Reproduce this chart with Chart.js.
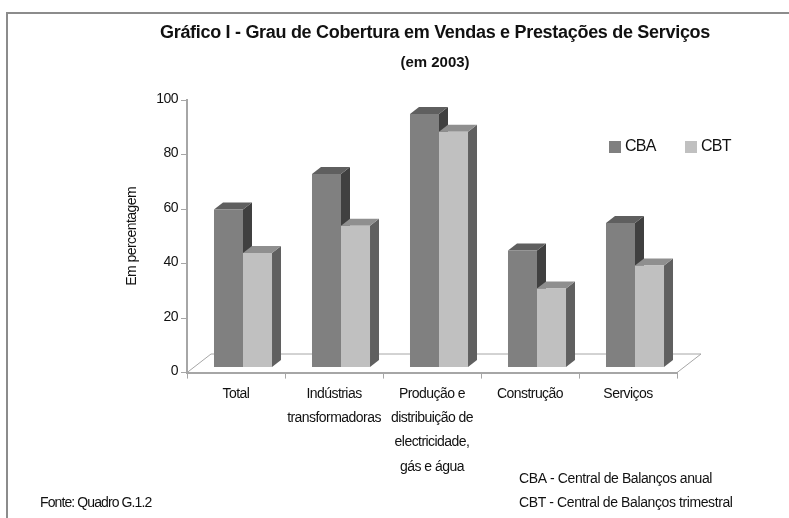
<!DOCTYPE html>
<html>
<head>
<meta charset="utf-8">
<title>Grau de Cobertura</title>
<script src="https://cdn.jsdelivr.net/npm/chart.js@4"></script>
<style>
  html, body { margin: 0; padding: 0; background: #fff; overflow: hidden; }
  #frame { position: absolute; left: 6px; top: 12px; width: 783px; height: 506px; border-left: 2px solid #8c8c8c; border-top: 2px solid #8c8c8c; box-sizing: border-box; }
  #myChart { position: absolute; left: 0; top: 0; }
</style>
</head>
<body>
<div id="frame"></div>
<canvas id="myChart" width="789" height="518"></canvas>
<script>
const categories = ['Total', ['Indústrias', 'transformadoras'], ['Produção e', 'distribuição de', 'electricidade,', 'gás e água'], 'Construção', 'Serviços'];
const cbaValues = [58, 71, 93, 43, 53];
const cbtValues = [42, 52, 86.5, 29, 37.5];
const yTicks = [0, 20, 40, 60, 80, 100];
const titleText = 'Gráfico I - Grau de Cobertura em Vendas e Prestações de Serviços';
const subtitleText = '(em 2003)';
const yAxisText = 'Em percentagem';
const sourceText = 'Fonte: Quadro G.1.2';
const noteLines = ['CBA - Central de Balanços anual', 'CBT - Central de Balanços trimestral'];

const fontName = '"Liberation Sans", Arial, sans-serif';
const axisGrey = '#a6a6a6';
const textColor = '#111';

function polygon(ctx, points, color) {
  ctx.fillStyle = color;
  ctx.beginPath();
  ctx.moveTo(points[0][0], points[0][1]);
  points.slice(1).forEach(p => ctx.lineTo(p[0], p[1]));
  ctx.closePath();
  ctx.fill();
}

// the original text is a narrow font, no such font here so tighten the spacing
const narrowText = {
  id: 'narrowText',
  beforeUpdate(chart) { chart.ctx.letterSpacing = '-0.55px'; },
  beforeDraw(chart) { chart.ctx.letterSpacing = '-0.55px'; }
};

// fake 3d look: floor, tops and sides go first, chart.js paints the front faces over them
const bars3d = {
  id: 'bars3d',
  beforeDatasetsDraw(chart) {
    const { ctx, chartArea } = chart;
    const o = chart.options.plugins.bars3d;
    ctx.save();
    ctx.strokeStyle = axisGrey;
    ctx.lineWidth = 1;
    ctx.beginPath();
    ctx.moveTo(chartArea.left, chartArea.bottom);
    ctx.lineTo(chartArea.left + o.floorX, chartArea.bottom - o.floorY);
    ctx.lineTo(chartArea.right + o.floorX, chartArea.bottom - o.floorY);
    ctx.lineTo(chartArea.right, chartArea.bottom);
    ctx.stroke();
    ctx.restore();
    ctx.save();
    ctx.translate(o.shiftX, o.shiftY);
    chart.data.datasets.forEach((ds, i) => {
      chart.getDatasetMeta(i).data.forEach(bar => {
        const l = bar.x - bar.width / 2;
        const r = bar.x + bar.width / 2;
        polygon(ctx, [[r, bar.y], [r + o.depthX, bar.y - o.depthY], [r + o.depthX, bar.base - o.depthY], [r, bar.base]], ds.sideColor);
        polygon(ctx, [[l, bar.y], [l + o.depthX, bar.y - o.depthY], [r + o.depthX, bar.y - o.depthY], [r, bar.y]], ds.topColor);
      });
    });
  },
  afterDatasetsDraw(chart) {
    chart.ctx.restore();
  }
};

// titles, legend and footer notes sit at free places in the frame
const extraText = {
  id: 'extraText',
  afterDraw(chart) {
    const { ctx } = chart;
    ctx.save();
    ctx.textBaseline = 'middle';
    ctx.fillStyle = textColor;

    ctx.textAlign = 'center';
    ctx.letterSpacing = '-0.3px';
    ctx.font = 'bold 18px ' + fontName;
    ctx.fillText(titleText, 435, 33);
    ctx.letterSpacing = '0px';
    ctx.font = 'bold 15px ' + fontName;
    ctx.fillText(subtitleText, 435, 63);

    ctx.textAlign = 'left';
    ctx.letterSpacing = '-0.7px';
    ctx.font = '16px ' + fontName;
    const legendX = [609, 685];
    chart.data.datasets.forEach((ds, i) => {
      ctx.fillStyle = ds.backgroundColor;
      ctx.fillRect(legendX[i], 141, 12, 12);
      ctx.fillStyle = textColor;
      ctx.fillText(ds.label, legendX[i] + 16, 147);
    });

    ctx.font = '14px ' + fontName;
    ctx.letterSpacing = '-0.9px';
    ctx.fillText(sourceText, 40, 503);
    ctx.letterSpacing = '-0.4px';
    ctx.fillText(noteLines[0], 519, 479);
    ctx.fillText(noteLines[1], 519, 503);
    ctx.restore();
  }
};

new Chart(document.getElementById('myChart'), {
  type: 'bar',
  data: {
    labels: categories,
    datasets: [{
      label: 'CBA',
      data: cbaValues,
      backgroundColor: '#808080',
      topColor: '#5f5f5f',
      sideColor: '#404040',
      clip: false
    }, {
      label: 'CBT',
      data: cbtValues,
      backgroundColor: '#c0c0c0',
      topColor: '#8f8f8f',
      sideColor: '#606060',
      clip: false
    }]
  },
  options: {
    responsive: false,
    animation: false,
    layout: { padding: { top: 100, right: 112, bottom: 0, left: 124 } },
    datasets: { bar: { categoryPercentage: 0.592, barPercentage: 1 } },
    plugins: {
      legend: { display: false },
      tooltip: { enabled: false },
      bars3d: { shiftX: 7, shiftY: -5, depthX: 9, depthY: 7, floorX: 24, floorY: 18.6 }
    },
    scales: {
      x: {
        afterFit(scale) { scale.height = 145.4; },
        border: { color: axisGrey, width: 2 },
        grid: { color: axisGrey, drawOnChartArea: false, tickLength: 6 },
        ticks: {
          color: textColor, maxRotation: 0, autoSkip: false, padding: 3,
          font: { family: fontName, size: 14, lineHeight: 1.74 }
        }
      },
      y: {
        min: 0,
        max: 100,
        afterFit(scale) { scale.width = 63; },
        afterBuildTicks(scale) { scale.ticks = yTicks.map(v => ({ value: v })); },
        border: { color: axisGrey, width: 2 },
        grid: { color: axisGrey, drawOnChartArea: false, tickLength: 6 },
        ticks: { color: textColor, padding: 3, labelOffset: -1, font: { family: fontName, size: 14 } },
        title: { display: true, text: yAxisText, color: textColor, padding: 0, font: { family: fontName, size: 14 } }
      }
    }
  },
  plugins: [narrowText, bars3d, extraText]
});
</script>
</body>
</html>
